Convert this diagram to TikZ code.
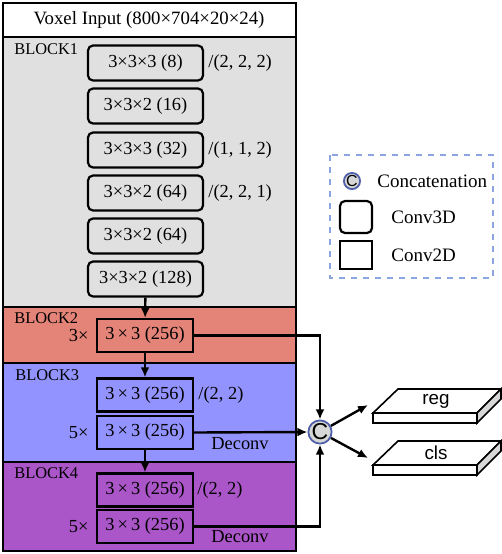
\documentclass[tikz,border=0pt]{standalone}
\usepackage{fontspec}
\setmainfont{Liberation Serif}
\setsansfont{Liberation Sans}
\usetikzlibrary{arrows.meta,positioning}

\definecolor{blockgray}{RGB}{224,224,224}
\definecolor{blockred}{RGB}{228,132,120}
\definecolor{blockblue}{RGB}{147,147,255}
\definecolor{blockpurple}{RGB}{170,85,200}
\definecolor{catblue}{RGB}{80,95,170}
\definecolor{catgray}{RGB}{215,215,215}
\definecolor{legendblue}{RGB}{140,165,225}
\definecolor{slabgray}{RGB}{215,215,215}

\tikzset{
  conv3d/.style={draw, rounded corners=2.5pt, line width=1.1pt, fill=blockgray,
    minimum width=57.5pt, minimum height=17.5pt, inner sep=0pt},
  conv2d/.style={draw, line width=1.1pt, minimum width=48pt, minimum height=16.5pt, inner sep=0pt},
  concat/.style={circle, draw=catblue, line width=0.9pt, fill=catgray, minimum size=10pt,
    inner sep=0pt, font=\sffamily\fontsize{11.5}{11}\selectfont},
  stride/.style={inner sep=0pt},
  blocklabel/.style={anchor=north west, inner sep=0pt, font=\fontsize{8.2}{10}\selectfont},
  slab/.style={draw, line width=0.8pt},
  link/.style={->, line width=1.2pt},
}

\begin{document}
\begin{tikzpicture}[x=0.5pt, y=-0.5pt, font=\fontsize{9.2}{11}\selectfont,
  >={Latex[length=5pt,width=4.4pt]}]
\useasboundingbox (0,0) rectangle (502,554);

% blocks
\draw[line width=0.9pt, fill=white] (3,3) rectangle (296,37);
\draw[line width=0.9pt, fill=blockgray] (3,37) rectangle (296,307);
\draw[line width=0.9pt, fill=blockred] (3,307) rectangle (296,363);
\draw[line width=0.9pt, fill=blockblue] (3,363) rectangle (296,462);
\draw[line width=0.9pt, fill=blockpurple] (3,462) rectangle (296,551);

\node[font=\fontsize{9.4}{11}\selectfont] (input) at (149,20) {Voxel Input (800×704×20×24)};
\node[blocklabel] (lbl1) at (14,43) {BLOCK1};
\node[blocklabel] (lbl2) at (14,312) {BLOCK2};
\node[blocklabel] (lbl3) at (15,369) {BLOCK3};
\node[blocklabel] (lbl4) at (14,467) {BLOCK4};

% block 1
\node[conv3d] (b1a) at (145.5,63) {3×3×3 (8)};
\node[conv3d] (b1b) at (145.5,106) {3×3×2 (16)};
\node[conv3d] (b1c) at (145.5,150) {3×3×3 (32)};
\node[conv3d] (b1d) at (145.5,193) {3×3×2 (64)};
\node[conv3d] (b1e) at (145.5,236) {3×3×2 (64)};
\node[conv3d] (b1f) at (145.5,279) {3×3×2 (128)};
\node[stride, right=2pt of b1a] {/(2, 2, 2)};
\node[stride, right=2pt of b1c] {/(1, 1, 2)};
\node[stride, right=2pt of b1d] {/(2, 2, 1)};

% block 2
\node[conv2d, fill=blockred] (b2) at (145,335.5) {3\,×\,3 (256)};
\node[stride, left=3.5pt of b2] {3×};

% block 3
\node[conv2d, fill=blockblue] (b3a) at (145,395) {3\,×\,3 (256)};
\node[conv2d, fill=blockblue] (b3b) at (145,432.5) {3\,×\,3 (256)};
\node[stride, right=2pt of b3a] {/(2, 2)};
\node[stride, left=3.5pt of b3b] {5×};
\node (dec3) at (240,444) {Deconv};

% block 4
\node[conv2d, fill=blockpurple] (b4a) at (145,490) {3\,×\,3 (256)};
\node[conv2d, fill=blockpurple] (b4b) at (145,526.5) {3\,×\,3 (256)};
\node[stride, right=1.5pt of b4a] {/(2, 2)};
\node[stride, left=3.5pt of b4b] {5×};
\node (dec4) at (240,537) {Deconv};

\draw[link] (b1f) -- (b2);
\draw[link] (b2) -- (b3a);
\draw[link] (b3b) -- (b4a);

% concatenation
\node[concat] (cat) at (320,432) {C};
\draw[link] (b2.east) -| (cat.north);
\draw[link] (b3b.east) -- (cat.west);
\draw[link] (b4b.east) -| (cat.south);

% heads
\coordinate (regin) at (368,405);
\coordinate (clsin) at (368,458);
\draw[link] (cat) -- (regin);
\draw[link] (cat) -- (clsin);

\draw[slab, fill=white] (373,413) -- (398,389) -- (501,389) -- (477,413) -- cycle;
\draw[slab, fill=white] (373,413) rectangle (477,423);
\draw[slab, fill=slabgray] (477,413) -- (501,389) -- (501,399) -- (477,423) -- cycle;
\node[font=\sffamily\fontsize{9.4}{11}\selectfont] (reg) at (436,401) {reg};

\draw[slab, fill=white] (373,465) -- (398,441) -- (501,441) -- (477,465) -- cycle;
\draw[slab, fill=white] (373,465) rectangle (477,475);
\draw[slab, fill=slabgray] (477,465) -- (501,441) -- (501,451) -- (477,475) -- cycle;
\node[font=\sffamily\fontsize{9.4}{11}\selectfont] (cls) at (436,453) {cls};

% legend
\draw[dashed, legendblue, line width=0.6pt] (330,155) rectangle (493,278);
\node[concat, minimum size=7pt, font=\sffamily\fontsize{8}{8}\selectfont] (lcat) at (352,181) {C};
\node[anchor=west, inner sep=0pt, font=\fontsize{9.5}{11}\selectfont] (lcattxt) at (377,181) {Concatenation};
\node[draw, rounded corners=2.5pt, line width=1.1pt, minimum width=16pt, minimum height=16pt] (l3d) at (356,217) {};
\node[anchor=west, inner sep=0pt, font=\fontsize{9.5}{11}\selectfont] (l3dtxt) at (391,217) {Conv3D};
\node[draw, line width=1.1pt, minimum width=16pt, minimum height=14pt] (l2d) at (356,255) {};
\node[anchor=west, inner sep=0pt, font=\fontsize{9.5}{11}\selectfont] (l2dtxt) at (391,255) {Conv2D};
\end{tikzpicture}
\end{document}
